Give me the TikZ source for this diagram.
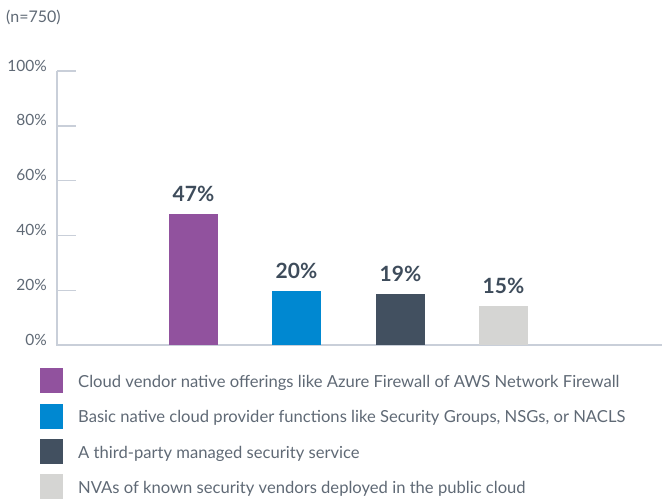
\documentclass[tikz,border=0pt]{standalone}
\usepackage{fontspec}
\setmainfont{Lato}
\definecolor{cpurple}{HTML}{91529E}
\definecolor{cblue}{HTML}{0088D1}
\definecolor{cdark}{HTML}{425060}
\definecolor{clight}{HTML}{D5D5D3}
\definecolor{axisc}{HTML}{C9CFD9}
\definecolor{txtc}{HTML}{5F6975}
\definecolor{valc}{HTML}{3E4C5B}
\tikzset{
  axisline/.style={draw=axisc, line width=1.4pt},
  ticklab/.style={anchor=base east, inner sep=0pt, text=txtc, font=\fontsize{15.5}{17}\selectfont},
  bar/.style={anchor=south, minimum width=49pt, inner sep=0pt, outer sep=0pt},
  vallab/.style={anchor=center, inner sep=0pt, text=valc, font=\fontsize{21}{24}\selectfont\bfseries},
  legsq/.style={anchor=center, minimum width=23pt, minimum height=25pt, inner sep=0pt},
  legtxt/.style={anchor=base west, inner sep=0pt, text=txtc, font=\fontsize{16.6}{19}\selectfont},
}
\begin{document}
\begin{tikzpicture}[x=1pt,y=-1pt]
\useasboundingbox (0,0) rectangle (663,499);
% header
\node[anchor=base west, inner sep=0pt, text=txtc, font=\fontsize{16}{18}\selectfont, xscale=1] (n) at (6,22) {(n=750)};
% axes
\coordinate (ytop) at (57,71);
\coordinate (orig) at (57,345);
\coordinate (xend) at (662,345);
\draw[axisline] (ytop) -- (orig) -- (xend);
\foreach \v/\y in {20/290.2,40/235.4,60/180.6,80/125.8,100/71}{
  \coordinate (t\v) at (57,\y);
  \coordinate (te\v) at (76,\y);
  \draw[axisline] (t\v) -- (te\v);
  \node[ticklab] (l\v) at (47,\y) {\v\%};
}
\node[ticklab] (l0) at (47,345) {0\%};
% bars
\node[bar, fill=cpurple, minimum height=131pt] (b1) at (193.5,345) {};
\node[bar, fill=cblue, minimum height=54pt] (b2) at (296.5,345) {};
\node[bar, fill=cdark, minimum height=51pt] (b3) at (400.5,345) {};
\node[bar, fill=clight, minimum height=39pt] (b4) at (503.5,345) {};
% values
\node[vallab] (v1) at (193.5,193.5) {47\%};
\node[vallab] (v2) at (296.5,270.5) {20\%};
\node[vallab] (v3) at (400.5,273.5) {19\%};
\node[vallab] (v4) at (503.5,285.5) {15\%};
% legend
\node[legsq, fill=cpurple] (s1) at (51.5,380.5) {};
\node[legsq, fill=cblue] (s2) at (51.5,416.5) {};
\node[legsq, fill=cdark] (s3) at (51.5,451.5) {};
\node[legsq, fill=clight] (s4) at (51.5,486.5) {};
\node[legtxt] (g1) at (78,387) {Cloud vendor native offerings like Azure Firewall of AWS Network Firewall};
\node[legtxt] (g2) at (78,422.5) {Basic native cloud provider functions like Security Groups, NSGs, or NACLS};
\node[legtxt] (g3) at (78,458) {A third-party managed security service};
\node[legtxt] (g4) at (78,493.5) {NVAs of known security vendors deployed in the public cloud};
\end{tikzpicture}
\end{document}
